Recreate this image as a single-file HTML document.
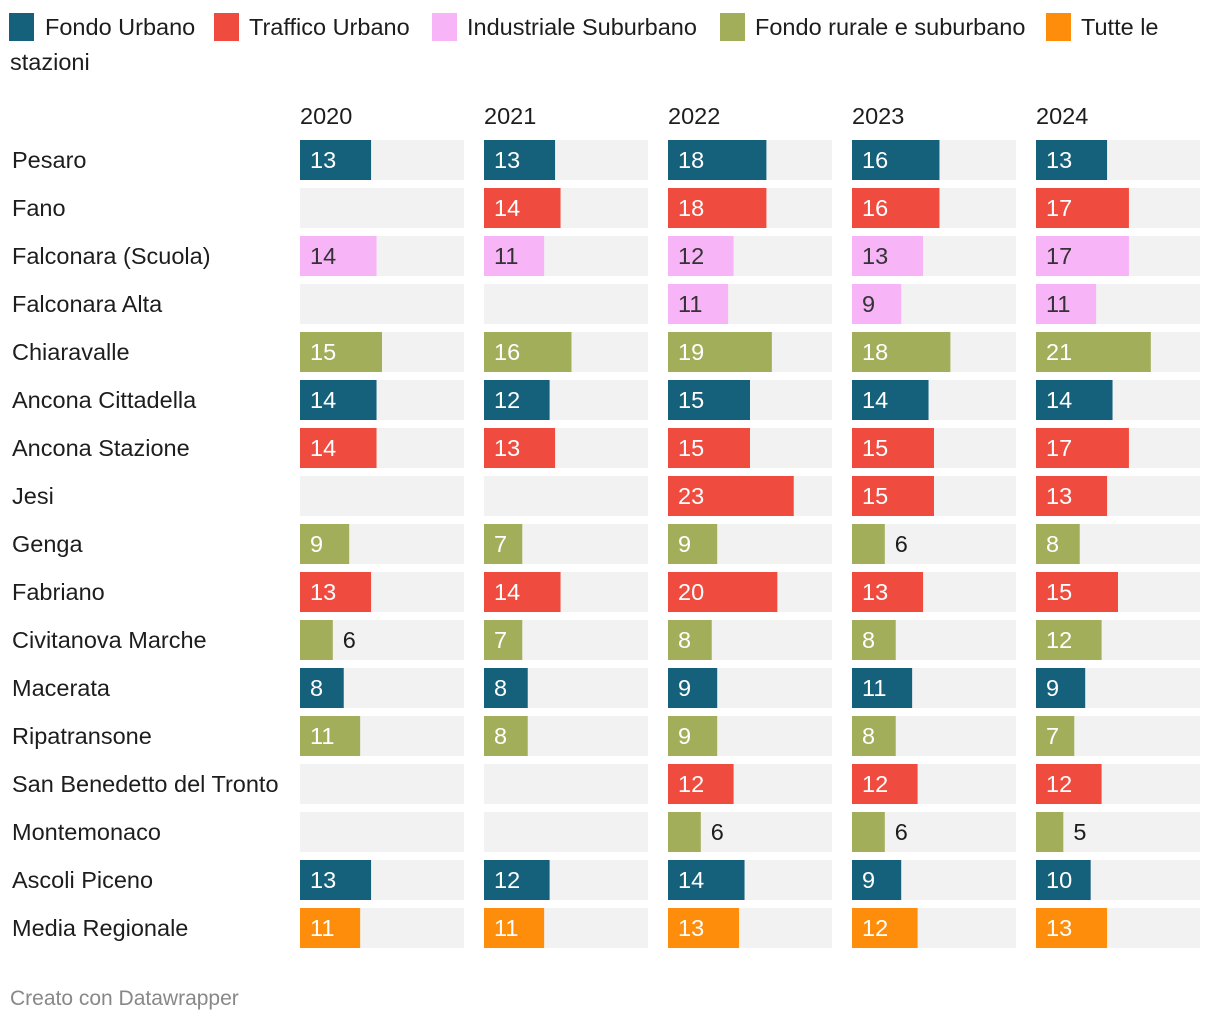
<!DOCTYPE html>
<html><head><meta charset="utf-8">
<style>
body{margin:0;width:1220px;height:1026px;background:#fff;font-family:"Liberation Sans",sans-serif;color:#1d1d1d;position:relative;overflow:hidden}
.li{position:absolute;top:10px;font-size:23.5px;line-height:34px;white-space:nowrap}
.sw{position:absolute;top:13px;width:25px;height:28px}
svg{position:absolute;left:0;top:0}
.foot{position:absolute;left:10px;top:987px;font-size:21px;color:#888}
</style></head><body>
<div>
<span class="sw" style="left:9px;background:#15607a"></span><span class="li" style="left:45px">Fondo Urbano</span>
<span class="sw" style="left:214px;background:#f04b3f"></span><span class="li" style="left:249px">Traffico Urbano</span>
<span class="sw" style="left:432px;background:#f7b5f7"></span><span class="li" style="left:467px">Industriale Suburbano</span>
<span class="sw" style="left:720px;background:#a3ae5a"></span><span class="li" style="left:755px">Fondo rurale e suburbano</span>
<span class="sw" style="left:1046px;background:#fd8d0b"></span><span class="li" style="left:1081px">Tutte le</span>
<span class="li" style="left:10px;top:45px">stazioni</span>
</div>
<svg id="chart" width="1220" height="1026"></svg>
<div class="foot">Creato con Datawrapper</div>
<script>
const years=["2020","2021","2022","2023","2024"];
const stations=["Pesaro","Fano","Falconara (Scuola)","Falconara Alta","Chiaravalle","Ancona Cittadella","Ancona Stazione","Jesi","Genga","Fabriano","Civitanova Marche","Macerata","Ripatransone","San Benedetto del Tronto","Montemonaco","Ascoli Piceno","Media Regionale"];
const types=["U","T","I","I","R","U","T","T","R","T","R","U","R","T","R","U","A"];
const v2020=[13,null,14,null,15,14,14,null,9,13,6,8,11,null,null,13,11];
const v2021=[13,14,11,null,16,12,13,null,7,14,7,8,8,null,null,12,11];
const v2022=[18,18,12,11,19,15,15,23,9,20,8,9,9,12,6,14,13];
const v2023=[16,16,13,9,18,14,15,15,6,13,8,11,8,12,6,9,12];
const v2024=[13,17,17,11,21,14,17,13,8,15,12,9,7,12,5,10,13];
const series=[v2020,v2021,v2022,v2023,v2024];
const colors={U:"#15607a",T:"#f04b3f",I:"#f7b5f7",R:"#a3ae5a",A:"#fd8d0b"};
const textCol={U:"#fff",T:"#fff",I:"#333",R:"#fff",A:"#fff"};
const svg=document.getElementById('chart');const NS="http://www.w3.org/2000/svg";
const colX=i=>300+i*184, colW=164, maxV=30;
const xs=v=>v/maxV*colW;
const rowY=j=>140+j*48;
const FS=23.5;
function el(t,a){const e=document.createElementNS(NS,t);for(const k in a)e.setAttribute(k,a[k]);svg.appendChild(e);return e;}
years.forEach((y,i)=>{const t=el('text',{x:colX(i),y:124,'font-size':FS,fill:'#1d1d1d'});t.textContent=y;

});
stations.forEach((s,j)=>{
const t=el('text',{x:12,y:rowY(j)+28,'font-size':FS,fill:'#1d1d1d'});t.textContent=s;


series.forEach((ser,i)=>{
const bg=el('rect',{x:colX(i),y:rowY(j),width:colW,height:40,fill:'#f2f2f2'});


const v=ser[j];if(v==null)return;
const w=xs(v);
const r=el('rect',{x:colX(i),y:rowY(j),width:w,height:40,fill:colors[types[j]]});


const inside=v>=7;
const lt=el('text',{x:inside?colX(i)+10:colX(i)+w+10,y:rowY(j)+28,'font-size':FS,fill:inside?textCol[types[j]]:'#1d1d1d'});
lt.textContent=v;


});});
</script>
</body></html>
